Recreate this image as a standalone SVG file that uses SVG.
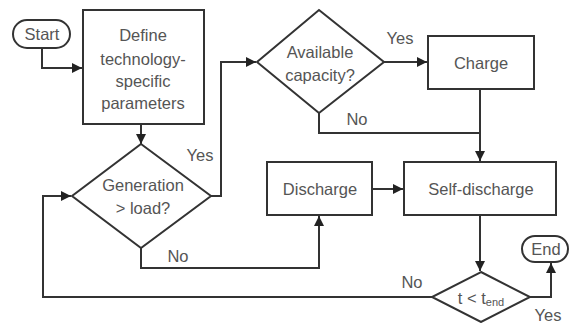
<svg xmlns="http://www.w3.org/2000/svg" width="571" height="323" viewBox="0 0 571 323">
<style>
.s{fill:#fff;stroke:#333;stroke-width:2}
.c{fill:none;stroke:#333;stroke-width:2}
text{font-family:"Liberation Sans",Arial,sans-serif;font-size:16.5px;fill:#555;text-anchor:middle;dominant-baseline:central}
</style>
<defs>
<marker id="a" viewBox="0 0 10 10" refX="10" refY="5" markerWidth="5" markerHeight="5" orient="auto" markerUnits="strokeWidth">
<path d="M0,0L10,5L0,10z" fill="#222"/>
</marker>
</defs>
<rect width="571" height="323" fill="#fff"/>
<g id="connectors">
<path class="c" d="M42,48V68H82" marker-end="url(#a)"/>
<path class="c" d="M141,124V144" marker-end="url(#a)"/>
<path class="c" d="M211,196H221V62H256" marker-end="url(#a)"/>
<path class="c" d="M384,62H427" marker-end="url(#a)"/>
<path class="c" d="M480,89V161" marker-end="url(#a)"/>
<path class="c" d="M319,113V133H480"/>
<path class="c" d="M141,248V268H319V216" marker-end="url(#a)"/>
<path class="c" d="M372,189H403" marker-end="url(#a)"/>
<path class="c" d="M480,215V271" marker-end="url(#a)"/>
<path class="c" d="M530,297H551V263" marker-end="url(#a)"/>
<path class="c" d="M432,297H43V196H71" marker-end="url(#a)"/>
<text x="200" y="155">Yes</text>
<text x="400" y="38">Yes</text>
<text x="357" y="119">No</text>
<text x="178" y="256">No</text>
<text x="412" y="282">No</text>
<text x="548" y="315">Yes</text>
</g>
<g id="start">
<rect class="s" x="13" y="20" width="57" height="28" rx="14"/>
<text x="42" y="34">Start</text>
</g>
<g id="define">
<rect class="s" x="83" y="10" width="121" height="114"/>
<text x="143" y="35">Define</text>
<text x="143" y="59">technology-</text>
<text x="143" y="81">specific</text>
<text x="143" y="103">parameters</text>
</g>
<g id="generation">
<path class="s" d="M141,144L211,196L141,248L72,196Z"/>
<text x="143" y="185">Generation</text>
<text x="143" y="208">&gt; load?</text>
</g>
<g id="available">
<path class="s" d="M319,10L384,62L319,113L257,62Z"/>
<text x="320" y="52">Available</text>
<text x="320" y="75">capacity?</text>
</g>
<g id="charge">
<rect class="s" x="428" y="36" width="106" height="53"/>
<text x="481" y="63">Charge</text>
</g>
<g id="discharge">
<rect class="s" x="267" y="162" width="105" height="53"/>
<text x="320" y="189">Discharge</text>
</g>
<g id="selfdischarge">
<rect class="s" x="404" y="162" width="152" height="53"/>
<text x="481" y="189">Self-discharge</text>
</g>
<g id="check">
<path class="s" d="M481,272L530,297L481,322L432,297Z"/>
<text x="481" y="298">t &lt; t<tspan font-size="11" dy="4">end</tspan></text>
</g>
<g id="end">
<rect class="s" x="522" y="236" width="46" height="26" rx="13"/>
<text x="546" y="249">End</text>
</g>
</svg>
